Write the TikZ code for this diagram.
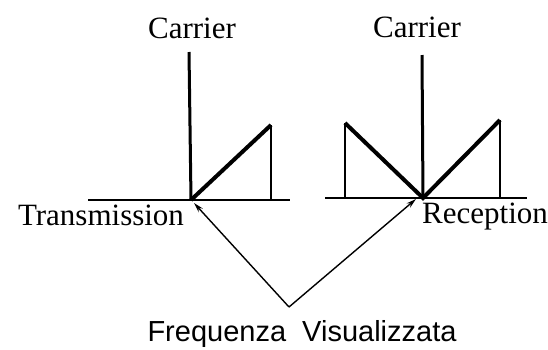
\documentclass[tikz,border=0pt]{standalone}
\usepackage{fontspec}
\setmainfont{Liberation Serif}
\newfontfamily\arialfont{Liberation Sans}
\usetikzlibrary{arrows.meta}
\begin{document}
\begin{tikzpicture}[x=1pt,y=-1pt,
  axisline/.style={line width=2.6pt},
  carrierline/.style={line width=3pt},
  sideband/.style={line width=4pt,line join=miter},
  edgeline/.style={line width=2pt},
  pointer/.style={line width=1.4pt,-{Stealth[length=10pt,width=5.5pt]}},
  serlabel/.style={font=\fontsize{31}{32}\selectfont,anchor=base,inner sep=0pt},
  sanslabel/.style={font=\arialfont\fontsize{29}{30}\selectfont,anchor=base,inner sep=0pt}]
\useasboundingbox (0,0) rectangle (548,349);
% left (transmission)
\coordinate (tl) at (88,200);
\coordinate (tr) at (290,200);
\coordinate (tv) at (191,200);
\coordinate (tc) at (189,52);
\coordinate (tt) at (271,125);
\coordinate (tb) at (271,200);
\draw[axisline] (tl) -- (tr);
\draw[carrierline] (tc) -- (tv);
\draw[sideband] (tv) -- (tt);
\draw[edgeline] (tt) -- (tb);
% right (reception)
\coordinate (rl) at (325,198);
\coordinate (rr) at (527,198);
\coordinate (rv) at (423,198);
\coordinate (rc) at (422,55);
\coordinate (rlt) at (345,123);
\coordinate (rlb) at (345,198);
\coordinate (rrt) at (500,120);
\coordinate (rrb) at (500,198);
\draw[axisline] (rl) -- (rr);
\draw[carrierline] (rc) -- (rv);
\draw[sideband] (rlt) -- (rv) -- (rrt);
\draw[edgeline] (rlt) -- (rlb);
\draw[edgeline] (rrt) -- (rrb);
% labels
\node[serlabel] (c1) at (192,38) {Carrier};
\node[serlabel] (c2) at (417,37) {Carrier};
\node[serlabel] (tx) at (101,225) {Transmission};
\node[serlabel] (rx) at (485,223) {Reception};
\node[sanslabel] (fv) at (302,341) {Frequenza\ \ Visualizzata};
% pointers
\coordinate (ap) at (289,307);
\coordinate (at) at (194,203);
\coordinate (ar) at (416,199);
\draw[pointer] (ap) -- (at);
\draw[pointer] (ap) -- (ar);
\end{tikzpicture}
\end{document}
